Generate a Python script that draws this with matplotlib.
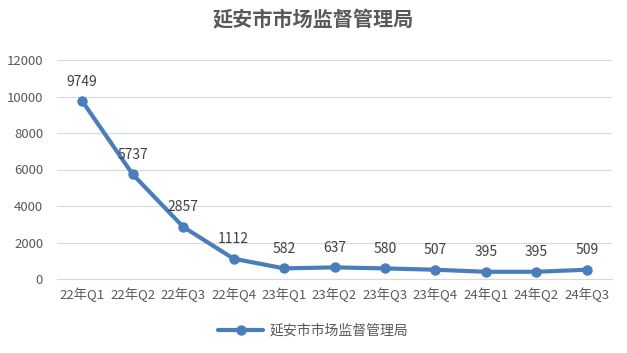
import matplotlib
matplotlib.use("Agg")
import matplotlib.pyplot as plt

categories = ["22年Q1", "22年Q2", "22年Q3", "22年Q4", "23年Q1", "23年Q2",
              "23年Q3", "23年Q4", "24年Q1", "24年Q2", "24年Q3"]
values = [9749, 5737, 2857, 1112, 582, 637, 580, 507, 395, 395, 509]
yticks = [0, 2000, 4000, 6000, 8000, 10000, 12000]
series_name = "延安市市场监督管理局"

plt.rcParams['font.family'] = ['Noto Sans CJK SC', 'DejaVu Sans']

W, H = 627, 353
fig = plt.figure(figsize=(W / 100, H / 100), dpi=100)
ax = fig.add_axes([57 / W, 1 - 279 / H, (612 - 57) / W, (279 - 60) / H])

x = list(range(len(categories)))
line, = ax.plot(x, values, color="#4a7ebb", lw=3, marker="o", ms=6.5,
                label=series_name, solid_capstyle="round")
for xi, v in zip(x, values):
    ax.annotate(str(v), (xi, v), xytext=(0, 9), textcoords="offset points",
                ha="center", va="bottom", fontsize=10, color="#404040")

ax.set_xlim(-0.5, len(categories) - 0.5)
ax.set_ylim(0, 12000)
ax.set_yticks(yticks)
ax.set_yticklabels([str(t) for t in yticks], fontsize=9.5, color="#595959")
ax.set_xticks(x)
ax.set_xticklabels(categories, fontsize=9.5, color="#595959")
ax.tick_params(axis="both", length=0)
ax.tick_params(axis="y", pad=10)
ax.tick_params(axis="x", pad=6)
ax.grid(axis="y", color="#d9d9d9", lw=0.8)
ax.set_axisbelow(True)
for s in ["top", "right", "left"]:
    ax.spines[s].set_visible(False)
ax.spines["bottom"].set_color("#d9d9d9")

fig.text(0.5, 1 - 20 / H, "延安市市场监督管理局", ha="center", va="center",
         fontsize=14.5, fontweight="bold", color="#595959")

fig.legend(handles=[line], loc="center", bbox_to_anchor=(0.5, 1 - 331 / H),
           frameon=False, fontsize=10, labelcolor="#595959",
           handlelength=3.2, handletextpad=0.5)

fig.savefig("out.png", dpi=100)
